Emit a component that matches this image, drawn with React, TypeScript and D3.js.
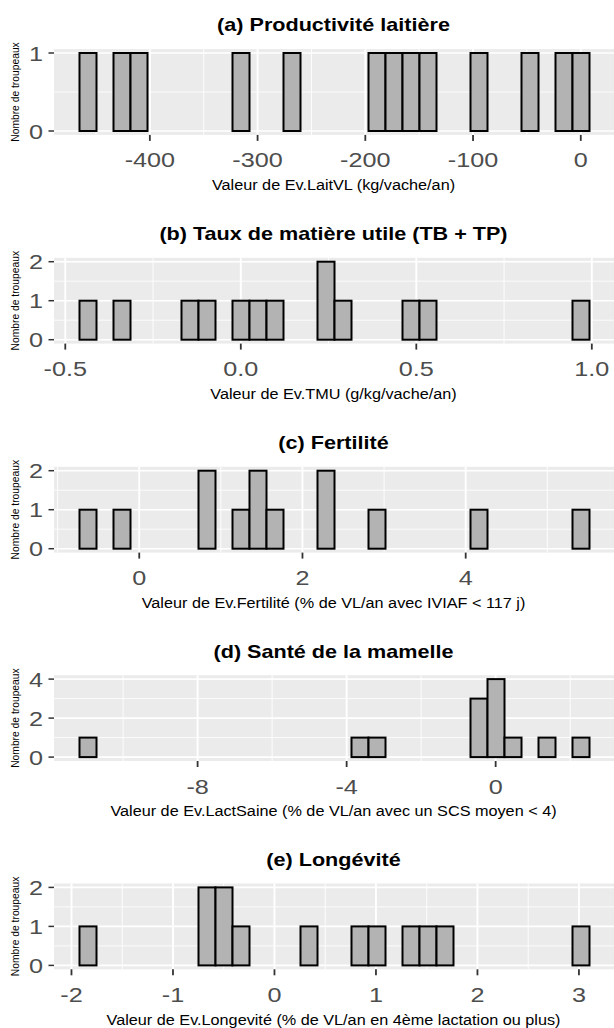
import React from "react";
import * as d3 from "d3";

const FONT = "'Liberation Sans', Arial, Helvetica, sans-serif";
// the reference picture is a bit stretched horizontally, so text is too
const SX_TITLE = 1.2;
const SX_TICK = 1.2;
const SX_AXIS = 1.12;

const W = 614;
const H = 1028;

// one entry per panel, top to bottom
const titles = [
  "(a) Productivité laitière",
  "(b) Taux de matière utile (TB + TP)",
  "(c) Fertilité",
  "(d) Santé de la mamelle",
  "(e) Longévité",
];
const xTitles = [
  "Valeur de Ev.LaitVL (kg/vache/an)",
  "Valeur de Ev.TMU (g/kg/vache/an)",
  "Valeur de Ev.Fertilité (% de VL/an avec IVIAF < 117 j)",
  "Valeur de Ev.LactSaine (% de VL/an avec un SCS moyen < 4)",
  "Valeur de Ev.Longevité (% de VL/an en 4ème lactation ou plus)",
];
const yTitle = "Nombre de troupeaux";

// left edge of first bin and bin width (30 bins per histogram)
const binStarts = [-465.3, -0.4595, -0.732, -11.17, -1.921];
const binWidths = [15.78, 0.04843, 0.2083, 0.4563, 0.1675];

const countsA = [1,0,1,1,0,0,0,0,0,1,0,0,1,0,0,0,0,1,1,1,1,0,0,1,0,0,1,0,1,1];
const countsB = [1,0,1,0,0,0,1,1,0,1,1,1,0,0,2,1,0,0,0,1,1,0,0,0,0,0,0,0,0,1];
const countsC = [1,0,1,0,0,0,0,2,0,1,2,1,0,0,2,0,0,1,0,0,0,0,0,1,0,0,0,0,0,1];
const countsD = [1,0,0,0,0,0,0,0,0,0,0,0,0,0,0,0,1,1,0,0,0,0,0,3,4,1,0,1,0,1];
const countsE = [1,0,0,0,0,0,0,2,2,1,0,0,0,1,0,0,1,1,0,1,1,1,0,0,0,0,0,0,0,1];
const counts = [countsA, countsB, countsC, countsD, countsE];

const xTicks = [
  [-400, -300, -200, -100, 0],
  [-0.5, 0, 0.5, 1],
  [0, 2, 4],
  [-8, -4, 0],
  [-2, -1, 0, 1, 2, 3],
];
const xTickLabels = [
  ["-400", "-300", "-200", "-100", "0"],
  ["-0.5", "0.0", "0.5", "1.0"],
  ["0", "2", "4"],
  ["-8", "-4", "0"],
  ["-2", "-1", "0", "1", "2", "3"],
];
const yTicks = [
  [0, 1],
  [0, 1, 2],
  [0, 1, 2],
  [0, 2, 4],
  [0, 1, 2],
];

// layout
const panelTops = [49.1, 257.8, 466.8, 675.2, 883.5];
const panelH = 85.8;
const panelLeft = 54;
const panelRight = 615;

const minorsOf = (ticks: number[], lo: number, hi: number) => {
  const step = ticks[1] - ticks[0];
  const out: number[] = [];
  for (let v = ticks[0] - step / 2; v <= ticks[ticks.length - 1] + step; v += step) {
    if (v >= lo && v <= hi) out.push(v);
  }
  return out;
};

const Panel = ({ i }: { i: number }) => {
  const c = counts[i];
  const lo = binStarts[i];
  const bw = binWidths[i];
  const hi = lo + c.length * bw;
  const pad = (hi - lo) * 0.05;
  const x = d3.scaleLinear().domain([lo - pad, hi + pad]).range([panelLeft, panelRight]);
  const ymax = d3.max(c) as number;
  const top = panelTops[i];
  const bottom = top + panelH;
  const y = d3.scaleLinear().domain([-0.05 * ymax, 1.05 * ymax]).range([bottom, top]);
  const [d0, d1] = x.domain();
  const xMinor = minorsOf(xTicks[i], d0, d1);
  const yMinor = minorsOf(yTicks[i], -0.05 * ymax, 1.05 * ymax);
  const cx = (panelLeft + panelRight) / 2 - 1;

  return (
    <g>
      <text
        transform={`translate(${cx},${top - 24}) scale(${SX_TITLE},1)`}
        textAnchor="middle"
        dy="0.35em"
        fontFamily={FONT}
        fontWeight="bold"
        fontSize={18}
        fill="#000"
      >
        {titles[i]}
      </text>
      <rect x={panelLeft} y={top} width={panelRight - panelLeft} height={panelH} fill="#EBEBEB" />
      {yMinor.map((v) => (
        <line key={"ym" + v} x1={panelLeft} x2={panelRight} y1={y(v)} y2={y(v)} stroke="#fff" strokeWidth={0.8} />
      ))}
      {xMinor.map((v) => (
        <line key={"xm" + v} x1={x(v)} x2={x(v)} y1={top} y2={bottom} stroke="#fff" strokeWidth={0.9} />
      ))}
      {yTicks[i].map((v) => (
        <line key={"yM" + v} x1={panelLeft} x2={panelRight} y1={y(v)} y2={y(v)} stroke="#fff" strokeWidth={1.6} />
      ))}
      {xTicks[i].map((v) => (
        <line key={"xM" + v} x1={x(v)} x2={x(v)} y1={top} y2={bottom} stroke="#fff" strokeWidth={1.9} />
      ))}
      {c.map((n, k) => (
        <rect
          key={"b" + k}
          x={x(lo + k * bw)}
          y={y(n)}
          width={x(lo + (k + 1) * bw) - x(lo + k * bw)}
          height={y(0) - y(n)}
          fill="#B3B3B3"
          stroke="#000"
          strokeWidth={2}
        />
      ))}
      {yTicks[i].map((v) => (
        <g key={"yt" + v}>
          <line x1={panelLeft - 5.5} x2={panelLeft} y1={y(v)} y2={y(v)} stroke="#333" strokeWidth={1.5} />
          <text
            transform={`translate(${panelLeft - 11},${y(v)}) scale(${SX_TICK},1)`}
            textAnchor="end"
            dy="0.36em"
            fontFamily={FONT}
            fontSize={21}
            fill="#4D4D4D"
          >
            {v}
          </text>
        </g>
      ))}
      {xTicks[i].map((v, k) => (
        <g key={"xt" + v}>
          <line x1={x(v)} x2={x(v)} y1={bottom} y2={bottom + 6} stroke="#333" strokeWidth={1.8} />
          <text
            transform={`translate(${x(v)},${bottom + 25}) scale(${SX_TICK},1)`}
            textAnchor="middle"
            dy="0.36em"
            fontFamily={FONT}
            fontSize={21}
            fill="#4D4D4D"
          >
            {xTickLabels[i][k]}
          </text>
        </g>
      ))}
      <text
        transform={`translate(${cx},${top + 136}) scale(${SX_AXIS},1)`}
        textAnchor="middle"
        dy="0.35em"
        fontFamily={FONT}
        fontSize={14.5}
        fill="#000"
      >
        {xTitles[i]}
      </text>
      <text
        transform={`translate(15,${top + panelH / 2}) scale(${SX_AXIS},1) rotate(-90)`}
        textAnchor="middle"
        dy="0.35em"
        fontFamily={FONT}
        fontSize={10.3}
        fill="#000"
      >
        {yTitle}
      </text>
    </g>
  );
};

export default function App() {
  return (
    <svg
      width={W}
      height={H}
      style={{ position: "absolute", left: 0, top: 0, background: "#fff" }}
    >
      <rect width={W} height={H} fill="#fff" />
      {titles.map((_, i) => (
        <Panel key={i} i={i} />
      ))}
    </svg>
  );
}
